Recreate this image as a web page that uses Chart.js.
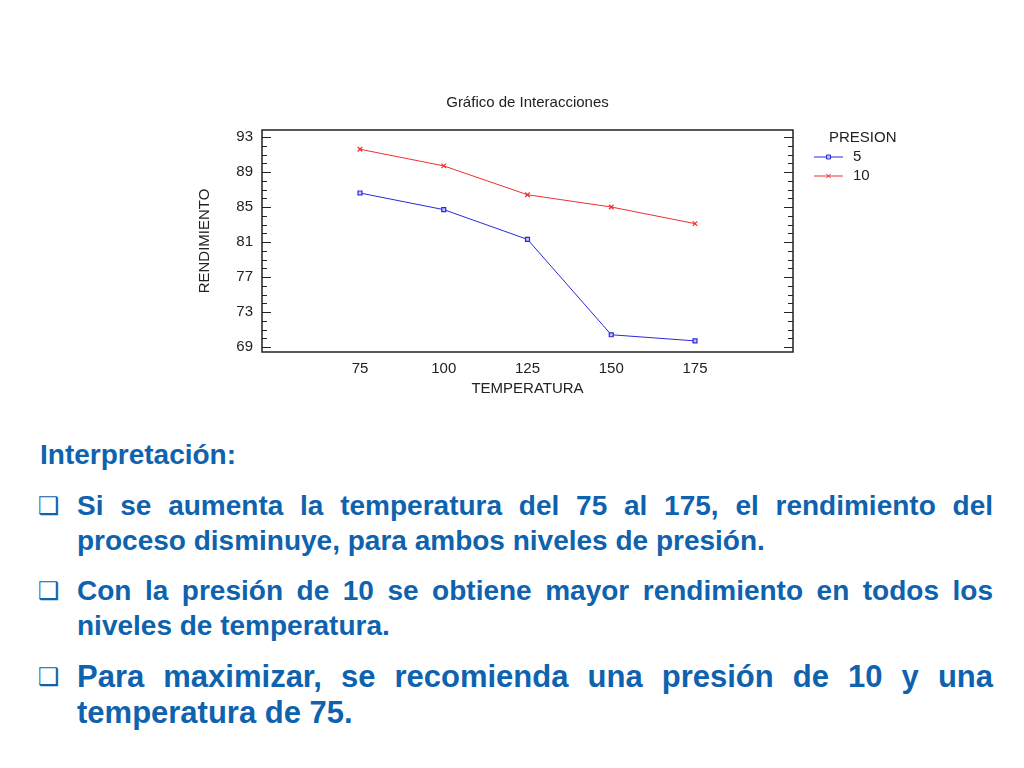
<!DOCTYPE html>
<html>
<head>
<meta charset="utf-8">
<script src="https://cdn.jsdelivr.net/npm/chart.js@4/dist/chart.umd.min.js"></script>
<style>
  html, body { margin: 0; padding: 0; background: #fff; }
  body { width: 1024px; height: 768px; position: relative; overflow: hidden; font-family: "Liberation Sans", Arial, sans-serif; }
  #chartBox { position: absolute; left: 0; top: 0; width: 1024px; height: 420px; }
  .txt { position: absolute; color: #0e62ae; font-weight: bold; white-space: nowrap; }
  .line { position: absolute; left: 77px; width: 916px; color: #0e62ae; font-weight: bold; white-space: nowrap; }
  .just { text-align: justify; text-align-last: justify; }
  .bullet { position: absolute; left: 38px; color: #0e62ae; font-family: "DejaVu Sans", sans-serif; }
</style>
</head>
<body>
<div id="chartBox"><canvas id="interChart" width="1024" height="420"></canvas></div>

<div class="txt" style="left:40px; top:437px; font-size:28px; line-height:36px;">Interpretación:</div>

<div class="bullet" style="top:490px; font-size:24px; line-height:32px;">❑</div>
<div class="line just" style="top:488px; font-size:28px; line-height:36px;">Si se aumenta la temperatura del 75 al 175, el rendimiento del</div>
<div class="line" style="top:523px; font-size:28px; line-height:36px;">proceso disminuye, para ambos niveles de presión.</div>

<div class="bullet" style="top:575px; font-size:24px; line-height:32px;">❑</div>
<div class="line just" style="top:573px; font-size:28px; line-height:36px;">Con la presión de 10 se obtiene mayor rendimiento en todos los</div>
<div class="line" style="top:608px; font-size:28px; line-height:36px;">niveles de temperatura.</div>

<div class="bullet" style="top:661px; font-size:24px; line-height:32px;">❑</div>
<div class="line just" style="top:658px; font-size:31px; line-height:38px;">Para maximizar, se recomienda una presión de 10 y una</div>
<div class="line" style="top:694px; font-size:31px; line-height:38px;">temperatura de 75.</div>

<script>
// chart values
const temperatures = [75, 100, 125, 150, 175];
const presion5 = [86.6, 84.7, 81.3, 70.4, 69.7];
const presion10 = [91.6, 89.7, 86.4, 85.0, 83.1];
const seriesLabels = ['5', '10'];
const yTickValues = [69, 73, 77, 81, 85, 89, 93];

const FONT = '"Liberation Sans", Arial, sans-serif';
const FONT_SIZE = 15;

// frame, inward tick marks, title and legend drawn on top of the plot
const decorPlugin = {
    id: 'decor',
    afterDraw(chart) {
        const ctx = chart.ctx;
        const area = chart.chartArea;
        const y = chart.scales.y;
        ctx.save();

        // frame
        ctx.strokeStyle = '#222';
        ctx.lineWidth = 1.5;
        ctx.strokeRect(area.left, area.top, area.right - area.left, area.bottom - area.top);

        // inward ticks on left and right axes, minor every unit
        ctx.lineWidth = 1.2;
        for (let v = Math.ceil(y.min); v <= y.max; v++) {
            const py = Math.round(y.getPixelForValue(v)) + 0.5;
            const len = (yTickValues.includes(v)) ? 9 : 5;
            ctx.beginPath();
            ctx.moveTo(area.left, py);
            ctx.lineTo(area.left + len, py);
            ctx.moveTo(area.right, py);
            ctx.lineTo(area.right - len, py);
            ctx.stroke();
        }

        // title
        ctx.fillStyle = '#222';
        ctx.font = FONT_SIZE + 'px ' + FONT;
        ctx.textAlign = 'center';
        ctx.textBaseline = 'middle';
        ctx.fillText('Gráfico de Interacciones', (area.left + area.right) / 2, 103);

        // legend
        ctx.textAlign = 'left';
        ctx.fillText('PRESION', 829, 138);
        chart.data.datasets.forEach((ds, i) => {
            const ly = 157 + i * 19;
            ctx.strokeStyle = ds.borderColor;
            ctx.lineWidth = 1;
            ctx.beginPath();
            ctx.moveTo(814, ly);
            ctx.lineTo(843, ly);
            ctx.stroke();
            ctx.fillStyle = '#c8c8f8';
            Chart.helpers.drawPoint(ctx, {
                pointStyle: ds.pointStyle,
                radius: ds.pointRadius,
                borderWidth: 1
            }, 828.5, ly);
            ctx.fillStyle = '#222';
            ctx.fillText(ds.label, 853, ly);
        });

        ctx.restore();
    }
};

const ctx = document.getElementById('interChart').getContext('2d');

new Chart(ctx, {
    type: 'line',
    data: {
        datasets: [{
            label: seriesLabels[0],
            data: temperatures.map((t, i) => ({ x: t, y: presion5[i] })),
            borderColor: '#2828e0',
            backgroundColor: '#2828e0',
            borderWidth: 1,
            pointStyle: 'rect',
            pointRadius: 2.8,
            pointBorderWidth: 1.2,
            pointBackgroundColor: '#c8c8f8',
            tension: 0
        }, {
            label: seriesLabels[1],
            data: temperatures.map((t, i) => ({ x: t, y: presion10[i] })),
            borderColor: '#ee2e2e',
            backgroundColor: '#ee2e2e',
            borderWidth: 1,
            pointStyle: 'crossRot',
            pointRadius: 3.2,
            pointBorderWidth: 1.2,
            tension: 0
        }]
    },
    options: {
        responsive: false,
        animation: false,
        devicePixelRatio: 1,
        layout: {
            padding: { left: 192, right: 231, top: 130, bottom: 20 }
        },
        plugins: {
            legend: { display: false },
            title: { display: false },
            tooltip: { enabled: false }
        },
        scales: {
            x: {
                type: 'linear',
                min: 45.75,
                max: 204.25,
                afterBuildTicks: scale => {
                    scale.ticks = temperatures.map(v => ({ value: v }));
                },
                afterFit: scale => { scale.height = 48; },
                grid: { display: false, drawTicks: false },
                border: { display: false },
                ticks: {
                    padding: 8,
                    color: '#222',
                    font: { family: FONT, size: FONT_SIZE }
                },
                title: {
                    display: true,
                    text: 'TEMPERATURA',
                    color: '#222',
                    font: { family: FONT, size: FONT_SIZE },
                    padding: { top: 5, bottom: 2 }
                }
            },
            y: {
                min: 68.43,
                max: 93.8,
                afterBuildTicks: scale => {
                    scale.ticks = yTickValues.map(v => ({ value: v }));
                },
                afterFit: scale => { scale.width = 70; },
                grid: { display: false, drawTicks: false },
                border: { display: false },
                ticks: {
                    padding: 9,
                    color: '#222',
                    font: { family: FONT, size: FONT_SIZE }
                },
                title: {
                    display: true,
                    text: 'RENDIMIENTO',
                    color: '#222',
                    font: { family: FONT, size: FONT_SIZE },
                    padding: { top: 4, bottom: 4 }
                }
            }
        }
    },
    plugins: [decorPlugin]
});
</script>
</body>
</html>
